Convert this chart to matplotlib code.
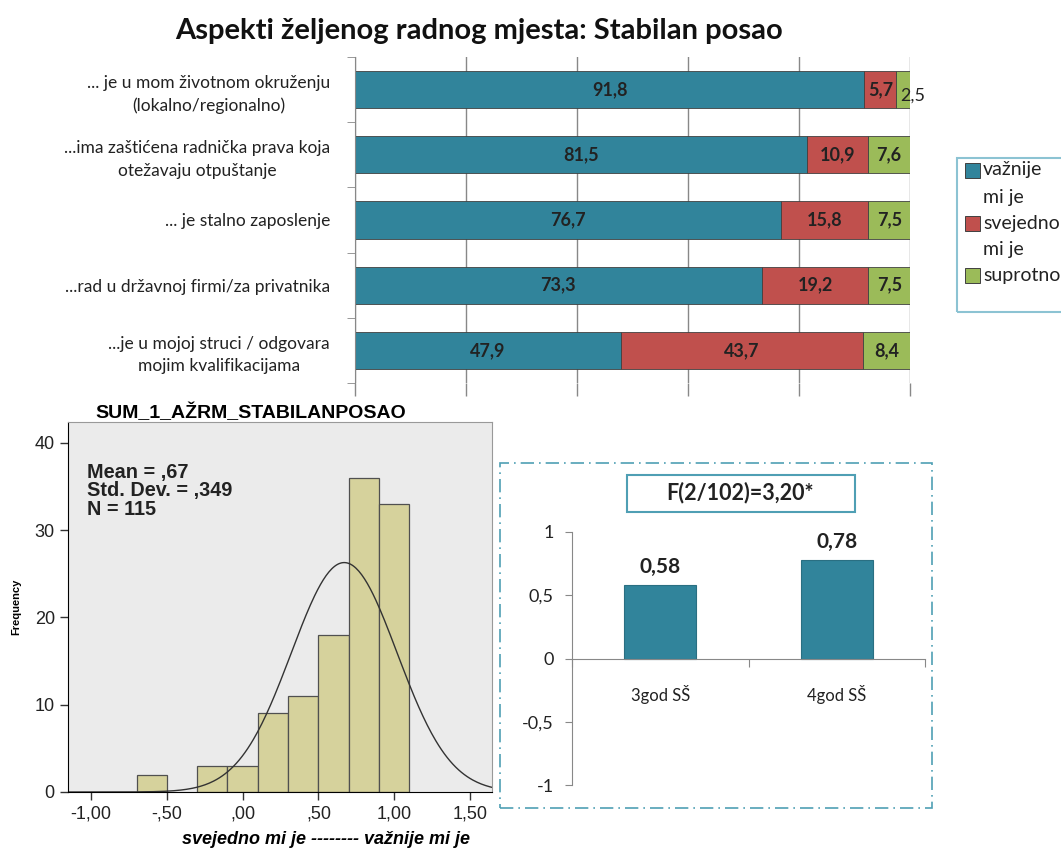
import matplotlib
matplotlib.use("Agg")
import matplotlib.pyplot as plt
from matplotlib.patches import Rectangle
import numpy as np

W, H = 1061, 852

# --- data: stacked bars ---
categories = ["... je u mom životnom okruženju\n(lokalno/regionalno)",
              "...ima zaštićena radnička prava koja\notežavaju otpuštanje",
              "... je stalno zaposlenje",
              "...rad u državnoj firmi/za privatnika",
              "...je u mojoj struci / odgovara\nmojim kvalifikacijama"]
vaznije = [91.8, 81.5, 76.7, 73.3, 47.9]
svejedno = [5.7, 10.9, 15.8, 19.2, 43.7]
suprotno = [2.5, 7.6, 7.5, 7.5, 8.4]
series_names = [["važnije", "mi je"], ["svejedno", "mi je"], ["suprotno"]]
series_colors = ["#31849b", "#c0504d", "#9bbb59"]

# --- data: histogram ---
bin_centers = [-0.6, -0.2, 0.0, 0.2, 0.4, 0.6, 0.8, 1.0]
bin_counts = [2, 3, 3, 9, 11, 18, 36, 33]
hist_mean, hist_sd, hist_n = 0.67, 0.349, 115
x_ticks = [-1.0, -0.5, 0.0, 0.5, 1.0, 1.5]
x_ticklabels = ["-1,00", "-,50", ",00", ",50", "1,00", "1,50"]

# --- data: group means ---
groups = ["3god SŠ", "4god SŠ"]
group_means = [0.58, 0.78]
group_labels = ["0,58", "0,78"]

def px(l, t, r, b):
    return [l / W, 1 - b / H, (r - l) / W, (b - t) / H]

fig = plt.figure(figsize=(W / 100, H / 100), dpi=100)
fig.patch.set_facecolor("white")

cal = "Lato"
arial = "Liberation Sans"

fig.text(479 / W, 1 - 31 / H, "Aspekti željenog radnog mjesta: Stabilan posao",
         ha="center", va="center", fontsize=21, fontweight="bold",
         family=cal, color="#111111")

# ---------- top stacked bar chart ----------
ax1 = fig.add_axes(px(355, 57, 910, 383))
y = np.arange(len(categories))
left = np.zeros(len(categories))
for vals, col in zip([vaznije, svejedno, suprotno], series_colors):
    ax1.barh(y, vals, left=left, height=0.57, color=col,
             edgecolor="#404040", linewidth=0.6)
    for yi, l, v in zip(y, left, vals):
        txt = f"{v:.1f}".replace(".", ",")
        if v < 4:
            ax1.text(l + v * 0.3, yi + 0.1, txt, ha="left", va="center",
                     fontsize=13, family=cal, color="#222222", clip_on=False)
        else:
            ax1.text(l + v / 2, yi, txt, ha="center", va="center",
                     fontsize=13, fontweight="bold", family=cal, color="#222222")
    left = left + np.array(vals)

ax1.set_xlim(0, 100)
ax1.set_ylim(len(categories) - 0.5, -0.5)
ax1.set_xticks(np.arange(0, 101, 20))
ax1.set_xticklabels([])
ax1.tick_params(axis="x", length=9, color="#888888", width=1)
ax1.grid(axis="x", color="#888888", linewidth=1)
ax1.set_axisbelow(True)
ax1.set_yticks(y)
ax1.set_yticklabels(categories, family=cal, fontsize=12.5, color="#222222",
                    multialignment="center", linespacing=1.5)
ax1.tick_params(axis="y", length=0, pad=18)
ax1.set_yticks(np.arange(-0.5, len(categories)), minor=True)
ax1.tick_params(axis="y", which="minor", length=6, color="#888888")
for s in ["top", "right", "bottom"]:
    ax1.spines[s].set_visible(False)
ax1.spines["left"].set_color("#888888")

# legend drawn by hand; its frame runs past the right edge of the figure
fig.patches.append(Rectangle((957 / W, 1 - 312 / H), 150 / W, 154 / H,
                             transform=fig.transFigure, fill=False,
                             edgecolor="#8cc3d3", linewidth=1.5))
entry_y = [170, 223, 275]
for ey, col, lines in zip(entry_y, series_colors, series_names):
    fig.patches.append(Rectangle((965 / W, 1 - (ey + 7.5) / H), 15 / W, 15 / H,
                                 transform=fig.transFigure, facecolor=col,
                                 edgecolor="#404040", linewidth=0.7))
    for k, line in enumerate(lines):
        fig.text(983 / W, 1 - (ey + 27 * k) / H, line, ha="left", va="center",
                 family=cal, fontsize=14, color="#222222")

# ---------- histogram ----------
ax2 = fig.add_axes(px(68, 422, 492, 792))
ax2.set_facecolor("#ebebeb")
ax2.bar(bin_centers, bin_counts, width=0.2, color="#d6d29c",
        edgecolor="#505050", linewidth=0.9)
xs = np.linspace(-1.16, 1.65, 300)
curve = hist_n * 0.2 / (hist_sd * np.sqrt(2 * np.pi)) * np.exp(-0.5 * ((xs - hist_mean) / hist_sd) ** 2)
ax2.plot(xs, curve, color="#333333", linewidth=1)
ax2.set_xlim(-1.152, 1.645)
ax2.set_ylim(0, 42.4)
ax2.set_xticks(x_ticks)
ax2.set_xticklabels(x_ticklabels)
ax2.set_yticks([0, 10, 20, 30, 40])
ax2.tick_params(labelsize=13, length=6, width=1, color="#333333")
for lab in ax2.get_xticklabels() + ax2.get_yticklabels():
    lab.set_family(arial)
    lab.set_color("#222222")
ax2.spines["top"].set_color("#999999")
ax2.spines["right"].set_color("#999999")
ax2.set_title("SUM_1_AŽRM_STABILANPOSAO", family=arial, fontsize=14,
              fontweight="bold", pad=1, x=0.43)
ax2.text(0.045, 0.89, f"Mean = ,67\nStd. Dev. = ,349\nN = {hist_n}",
         transform=ax2.transAxes, ha="left", va="top", family=arial,
         fontsize=14.3, fontweight="bold", linespacing=0.98, color="#222222")
ax2.set_ylabel("Frequency", family=arial, fontsize=8, fontweight="bold", labelpad=10)
ax2.set_xlabel("svejedno mi je -------- važnije mi je", family=arial,
               fontsize=13, fontweight="bold", style="italic")
ax2.xaxis.set_label_coords((326 - 68) / 424, -(840 - 792) / 370)
ax2.xaxis.label.set_va("center")

# ---------- group means ----------
fig.patches.append(Rectangle((500 / W, 1 - 808 / H), 432 / W, 345 / H,
                             transform=fig.transFigure, fill=False,
                             edgecolor="#4f9fb4", linewidth=1.2,
                             linestyle=(0, (8, 3, 1, 3))))
fig.patches.append(Rectangle((627 / W, 1 - 512 / H), 228 / W, 37 / H,
                             transform=fig.transFigure, fill=False,
                             edgecolor="#4f9fb4", linewidth=1.5))
fig.text(740 / W, 1 - 493 / H, "F(2/102)=3,20*", ha="center", va="center",
         family=cal, fontsize=15.5, fontweight="bold", color="#222222")

ax3 = fig.add_axes(px(572, 532, 925, 785))
xg = np.arange(len(groups))
ax3.bar(xg, group_means, width=0.41, color="#31849b", edgecolor="#2a6f82", linewidth=0.8)
for xi, v, t in zip(xg, group_means, group_labels):
    ax3.text(xi, v + 0.14, t, ha="center", va="center", family=cal,
             fontsize=15, fontweight="bold", color="#222222")
ax3.set_xlim(-0.5, 1.5)
ax3.set_ylim(-1, 1)
ax3.set_yticks([-1, -0.5, 0, 0.5, 1])
ax3.set_yticklabels(["-1", "-0,5", "0", "0,5", "1"], family=cal, fontsize=13,
                    color="#222222")
ax3.tick_params(axis="y", length=5, color="#888888", pad=8)
ax3.spines["bottom"].set_position(("data", 0))
ax3.set_xticks([-0.5, 0.5, 1.5])
ax3.set_xticklabels([])
ax3.tick_params(axis="x", length=6, color="#888888", direction="out")
for xi, g in zip(xg, groups):
    ax3.text(xi, -0.285, g, ha="center", va="center", family=cal, fontsize=12,
             color="#222222")
for s in ["top", "right"]:
    ax3.spines[s].set_visible(False)
ax3.spines["left"].set_color("#888888")
ax3.spines["bottom"].set_color("#888888")

fig.savefig("out.png", dpi=100)
